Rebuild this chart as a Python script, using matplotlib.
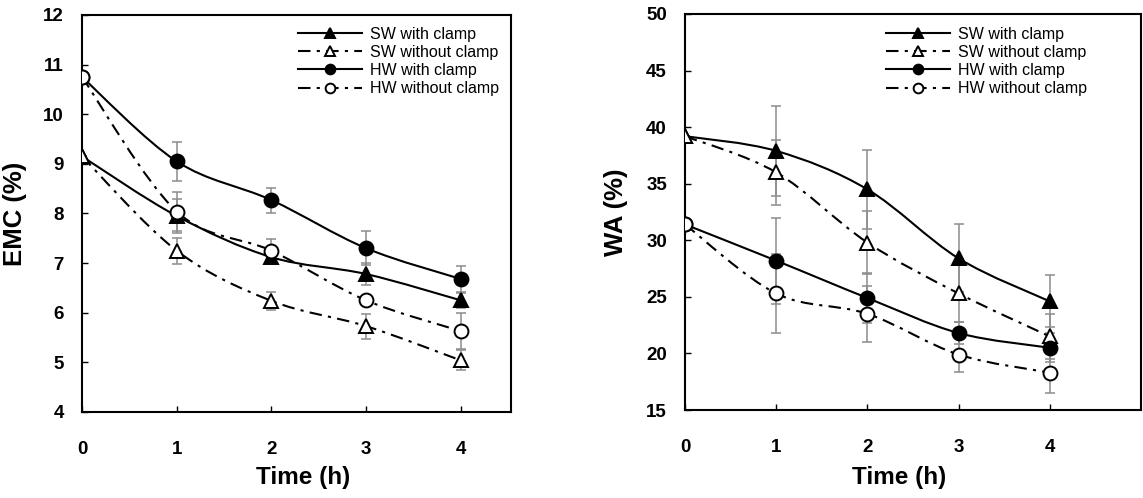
import numpy as np
import matplotlib
matplotlib.use('Agg')
import matplotlib.pyplot as plt
from matplotlib.path import Path
from matplotlib.patches import PathPatch
from matplotlib.lines import Line2D

plt.rcParams['font.family'] = ['Liberation Sans', 'DejaVu Sans']

# time points
time = [0, 1, 2, 3, 4]
labels = ['SW with clamp', 'SW without clamp', 'HW with clamp', 'HW without clamp']

# EMC (%) - left panel
emc_sw_clamp = [9.15, 7.95, 7.12, 6.78, 6.25]
emc_sw_noclamp = [9.15, 7.25, 6.24, 5.73, 5.04]
emc_hw_clamp = [10.75, 9.05, 8.27, 7.30, 6.68]
emc_hw_noclamp = [10.75, 8.04, 7.25, 6.25, 5.63]
emc_sw_clamp_err = [0.0, 0.35, 0.12, 0.22, 0.15]
emc_sw_noclamp_err = [0.0, 0.26, 0.18, 0.25, 0.2]
emc_hw_clamp_err = [0.0, 0.40, 0.25, 0.34, 0.27]
emc_hw_noclamp_err = [0.0, 0.40, 0.24, 0.0, 0.36]

# WA (%) - right panel
wa_sw_clamp = [39.2, 37.9, 34.5, 28.4, 24.6]
wa_sw_noclamp = [39.2, 36.0, 29.8, 25.3, 21.5]
wa_hw_clamp = [31.4, 28.2, 24.9, 21.8, 20.5]
wa_hw_noclamp = [31.4, 25.3, 23.5, 19.9, 18.3]
wa_sw_clamp_err = [0.0, 4.0, 3.5, 3.0, 2.3]
wa_sw_noclamp_err = [0.0, 2.9, 2.8, 2.5, 2.0]
wa_hw_clamp_err = [0.0, 3.8, 2.2, 1.0, 1.3]
wa_hw_noclamp_err = [0.0, 3.5, 2.5, 1.5, 1.8]

dashdot = (0, (6, 3, 1.5, 3))
styles = [
    dict(ls='-', marker='^', mfc='black'),
    dict(ls=dashdot, marker='^', mfc='white'),
    dict(ls='-', marker='o', mfc='black'),
    dict(ls=dashdot, marker='o', mfc='white'),
]


def smooth_path(x, y):
    '''
    Catmull-Rom style bezier path through the points
    '''
    p = np.column_stack([x, y]).astype(float)
    ext = np.vstack([p[0], p, p[-1]])
    verts = [p[0]]
    codes = [Path.MOVETO]
    for i in range(len(p) - 1):
        c1 = ext[i + 1] + (ext[i + 2] - ext[i]) / 6.0
        c2 = ext[i + 2] - (ext[i + 3] - ext[i + 1]) / 6.0
        verts += [c1, c2, p[i + 1]]
        codes += [Path.CURVE4] * 3
    return Path(verts, codes)


def draw_panel(ax, series, errs, ylim, yticks, xmax, ylabel, leg_xy):
    for vals, err, st in zip(series, errs, styles):
        ax.errorbar(time, vals, yerr=err, fmt='none', ecolor='#8c8c8c',
                    elinewidth=1.1, capsize=3.8, capthick=1.1, zorder=1)
        ax.add_patch(PathPatch(smooth_path(time, vals), fc='none', ec='black',
                               lw=1.5, ls=st['ls'], zorder=2))
        ax.plot(time, vals, ls='none', marker=st['marker'], ms=10,
                mfc=st['mfc'], mec='black', mew=1.4, zorder=3)

    ax.set_xlim(0, xmax)
    ax.set_ylim(*ylim)
    ax.set_xticks(time)
    ax.set_yticks(yticks)
    ax.tick_params(direction='in', length=4, width=1, labelsize=13.5)
    ax.tick_params(axis='x', pad=21)
    ax.tick_params(axis='y', pad=13)
    for lab in ax.get_xticklabels() + ax.get_yticklabels():
        lab.set_fontweight('bold')
    for sp in ax.spines.values():
        sp.set_linewidth(1.5)

    ax.set_ylabel(ylabel, fontsize=18.5, fontweight='bold')
    ax.set_xlabel('Time (h)', fontsize=17.5, fontweight='bold')

    handles = [Line2D([], [], color='black', lw=1.5, ls=st['ls'], marker=st['marker'],
                      ms=7, mfc=st['mfc'], mec='black', mew=1.4) for st in styles]
    ax.legend(handles, labels, loc='upper left', bbox_to_anchor=leg_xy, frameon=False,
              fontsize=11.5, handlelength=4.0, handletextpad=0.5, labelspacing=0.2,
              borderpad=0, borderaxespad=0)


fig = plt.figure(figsize=(11.43, 4.98), dpi=100)
W, H = 1143.0, 498.0

ax1 = fig.add_axes([82 / W, 1 - 412 / H, (511 - 82) / W, (412 - 15) / H])
draw_panel(ax1, [emc_sw_clamp, emc_sw_noclamp, emc_hw_clamp, emc_hw_noclamp],
           [emc_sw_clamp_err, emc_sw_noclamp_err, emc_hw_clamp_err, emc_hw_noclamp_err],
           (4, 12), np.arange(4, 13, 1), 4.53, 'EMC (%)', (0.503, 0.971))
ax1.yaxis.set_label_coords(-0.128, 0.5)
ax1.xaxis.set_label_coords(0.515, -0.136)

ax2 = fig.add_axes([685 / W, 1 - 410 / H, (1141 - 685) / W, (410 - 14) / H])
draw_panel(ax2, [wa_sw_clamp, wa_sw_noclamp, wa_hw_clamp, wa_hw_noclamp],
           [wa_sw_clamp_err, wa_sw_noclamp_err, wa_hw_clamp_err, wa_hw_noclamp_err],
           (15, 50), np.arange(15, 51, 5), 5.0, 'WA (%)', (0.441, 0.968))
ax2.yaxis.set_label_coords(-0.125, 0.5)
ax2.xaxis.set_label_coords(0.47, -0.142)

fig.savefig('out.png', dpi=100)
